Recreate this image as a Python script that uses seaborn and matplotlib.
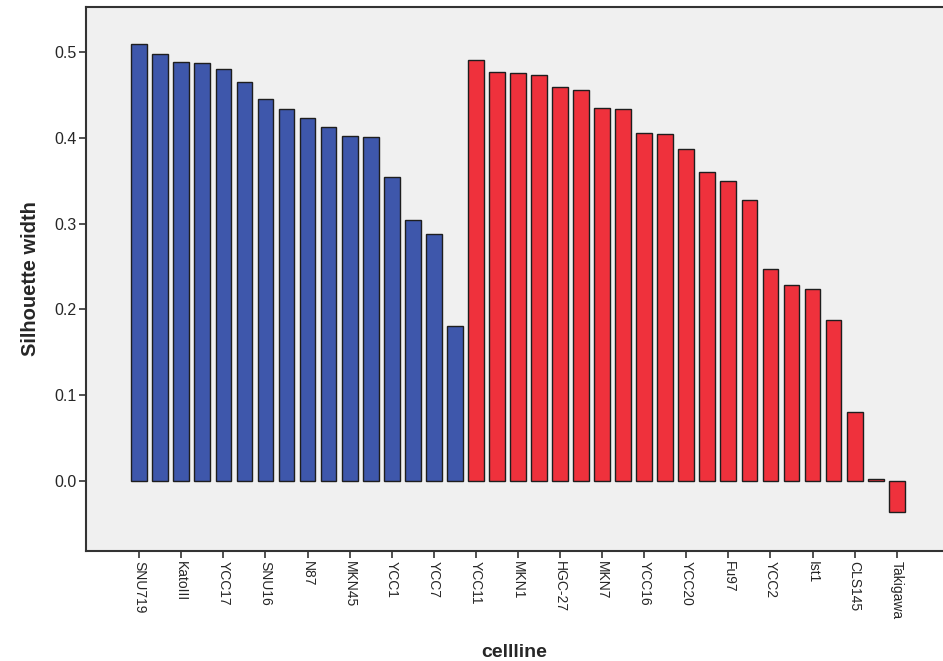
import matplotlib
matplotlib.use("Agg")
import numpy as np
import pandas as pd
import seaborn as sns
import matplotlib.pyplot as plt

# ------ silhouette widths, sorted within each cluster ------ #
cluster1_width = [0.509, 0.498, 0.488, 0.487, 0.480, 0.465, 0.445, 0.433,
                  0.423, 0.413, 0.402, 0.401, 0.354, 0.304, 0.288, 0.181]
cluster2_width = [0.491, 0.477, 0.476, 0.473, 0.459, 0.456, 0.435, 0.434,
                  0.405, 0.404, 0.387, 0.360, 0.350, 0.328, 0.247, 0.228,
                  0.224, 0.188, 0.080, 0.002, -0.036]

# only every second bar carries a label on the axis
tick_labels = ["SNU719", "KatoIII", "YCC17", "SNU16", "N87", "MKN45", "YCC1",
               "YCC7", "YCC11", "MKN1", "HGC-27", "MKN7", "YCC16", "YCC20",
               "Fu97", "YCC2", "Ist1", "CLS145", "Takigawa"]

y_ticks = [0.0, 0.1, 0.2, 0.3, 0.4, 0.5]

widths = cluster1_width + cluster2_width
data = pd.DataFrame({
    "pos": np.arange(len(widths)),
    "width": widths,
    "cluster": ["1"] * len(cluster1_width) + ["2"] * len(cluster2_width),
})

sns.set_style("white")
plt.rcParams["font.family"] = ["Liberation Sans", "DejaVu Sans"]

fig = plt.figure(figsize=(9.43, 6.61), dpi=100, facecolor="w")
ax = fig.add_axes([0.0912, 0.1664, 0.9088, 0.823])
ax.set_facecolor("#F0F0F0")

sns.barplot(
    data=data, x="pos", y="width", hue="cluster", dodge=False,
    palette={"1": "#3E57AB", "2": "#EF313C"}, saturation=1, width=0.75,
    edgecolor="#1E1E1E", linewidth=1.0, legend=False, ax=ax
)

ax.set_xlim(-2.53, 38.2)
ax.set_ylim(-0.0814, 0.5523)
ax.set_yticks(y_ticks)
ax.set_yticklabels(["%.1f" % v for v in y_ticks], fontsize=11.5)
ax.set_xticks(np.arange(0, len(widths), 2))
ax.set_xticklabels(tick_labels, rotation=-90, fontsize=10)
ax.tick_params(axis="both", direction="out", length=5, width=1.2,
               color="#333333", bottom=True, left=True, pad=2)

for side in ["left", "bottom", "top"]:
    ax.spines[side].set_color("#333333")
    ax.spines[side].set_linewidth(1.5)
ax.spines["right"].set_visible(False)

ax.set_xlabel("cellline", fontsize=14, fontweight="bold", labelpad=18)
ax.set_ylabel("Silhouette width", fontsize=14.5, fontweight="bold", labelpad=10)

plt.savefig("out.png", dpi=100)
